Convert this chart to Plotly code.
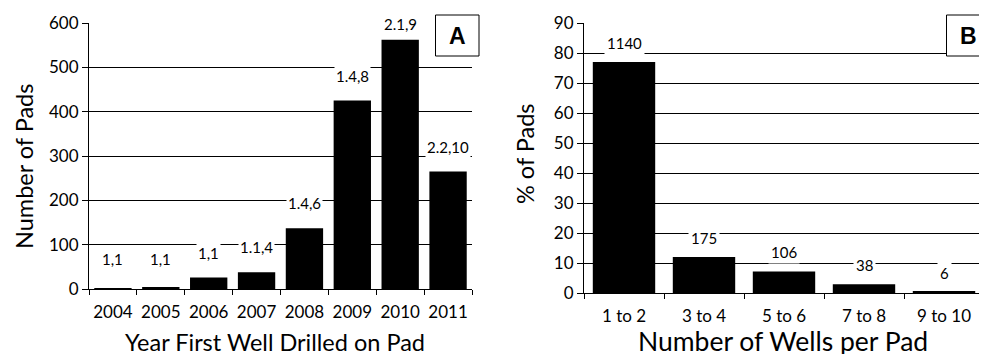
import plotly.graph_objects as go

# Panel A data
years = ["2004", "2005", "2006", "2007", "2008", "2009", "2010", "2011"]
pads_per_year = [2, 3, 26, 38, 137, 425, 562, 265]
labels_a = ["1,1", "1,1", "1,1", "1.1,4", "1.4,6", "1.4,8", "2.1,9", "2.2,10"]

# Panel B data
well_bins = ["1 to 2", "3 to 4", "5 to 6", "7 to 8", "9 to 10"]
pct_pads = [77.0, 12.0, 7.2, 2.9, 0.4]
labels_b = ["1140", "175", "106", "38", "6"]

FONT = "Lato"
OFF = 8  # page body margin
W, H = 987 - OFF, 354 - OFF
ML, MR, MT, MB = 89 - OFF, 3, 23 - OFF, 61
PW = W - ML - MR
PH = H - MT - MB

def px_x(px):
    return (px - OFF - ML) / PW

def px_y(py):
    return (H - MB - (py - OFF)) / PH

fig = go.Figure()
fig.add_trace(go.Bar(x=years, y=pads_per_year, marker=dict(color="black", line=dict(width=0)),
                     xaxis="x", yaxis="y", showlegend=False, hoverinfo="x+y"))
fig.add_trace(go.Bar(x=well_bins, y=pct_pads, marker=dict(color="black", line=dict(width=0)),
                     xaxis="x2", yaxis="y2", showlegend=False, hoverinfo="x+y"))

annotations = []
for i, (v, t) in enumerate(zip(pads_per_year, labels_a)):
    ly = max(min(v + 56, 597), 68)
    annotations.append(dict(x=i, y=ly, xref="x", yref="y", text=t, showarrow=False,
                            font=dict(family=FONT, size=15, color="black"),
                            bgcolor="white", borderpad=1))
for i, (v, t) in enumerate(zip(pct_pads, labels_b)):
    annotations.append(dict(x=i, y=v, xref="x2", yref="y2", text=t, showarrow=False,
                            yshift=19, font=dict(family=FONT, size=15, color="black"),
                            bgcolor="white", borderpad=2))

annotations += [
    dict(x=px_x(275), y=px_y(342), xref="paper", yref="paper", text="Year First Well Drilled on Pad",
         showarrow=False, font=dict(family=FONT, size=23.5, color="black"),
         xanchor="center", yanchor="middle"),
    dict(x=px_x(24), y=px_y(167), xref="paper", yref="paper", text="Number of Pads",
         showarrow=False, font=dict(family=FONT, size=23.5, color="black"), textangle=-90,
         xanchor="center", yanchor="middle"),
    dict(x=px_x(783), y=px_y(341), xref="paper", yref="paper", text="Number of Wells per Pad",
         showarrow=False, font=dict(family=FONT, size=26.5, color="black"),
         xanchor="center", yanchor="middle"),
    dict(x=px_x(525), y=px_y(154), xref="paper", yref="paper", text="% of Pads",
         showarrow=False, font=dict(family=FONT, size=23.5, color="black"), textangle=-90,
         xanchor="center", yanchor="middle"),
    dict(x=px_x(457.5), y=px_y(36), xref="paper", yref="paper", text="<b>A</b>",
         showarrow=False, font=dict(family="Liberation Sans", size=23, color="black"),
         xanchor="center", yanchor="middle"),
    dict(x=px_x(968), y=px_y(36), xref="paper", yref="paper", text="<b>B</b>",
         showarrow=False, font=dict(family="Liberation Sans", size=23, color="black"),
         xanchor="center", yanchor="middle"),
]

shapes = [
    dict(type="rect", xref="paper", yref="paper", x0=px_x(435.5), x1=px_x(479), y0=px_y(56), y1=px_y(15),
         line=dict(color="black", width=1), fillcolor="white", layer="above"),
    dict(type="rect", xref="paper", yref="paper", x0=px_x(946.5), x1=px_x(992), y0=px_y(56), y1=px_y(15),
         line=dict(color="black", width=1), fillcolor="white", layer="above"),
]

tick_font = dict(family=FONT, size=17, color="black")
xcommon = dict(type="category", showline=True, linecolor="black", linewidth=1, ticks="outside",
               tickson="boundaries", ticklen=5, tickcolor="black", tickfont=tick_font,
               showgrid=False, fixedrange=True, tickangle=0, automargin=False, ticklabelstandoff=8)
ycommon = dict(showline=True, linecolor="black", linewidth=1, ticks="outside", ticklen=6,
               tickcolor="black", tickfont=tick_font, showgrid=True, gridcolor="black", gridwidth=1,
               zeroline=False, fixedrange=True, automargin=False)

fig.update_layout(
    width=W, height=H,
    margin=dict(l=ML, r=MR, t=MT, b=MB),
    paper_bgcolor="white", plot_bgcolor="white",
    bargap=0.22,
    xaxis=dict(domain=[0, px_x(472)], anchor="y", range=[-0.5, len(years) - 0.5], **xcommon),
    yaxis=dict(domain=[px_y(289), 1], anchor="x", range=[0, 600], dtick=100, **ycommon),
    xaxis2=dict(domain=[px_x(584), px_x(984)], anchor="y2", range=[-0.5, len(well_bins) - 0.5], **xcommon),
    yaxis2=dict(domain=[0, 1], anchor="x2", range=[0, 90], dtick=10, **ycommon),
    annotations=annotations,
    shapes=shapes,
    font=dict(family=FONT, color="black"),
)

fig.write_html("out.html")
